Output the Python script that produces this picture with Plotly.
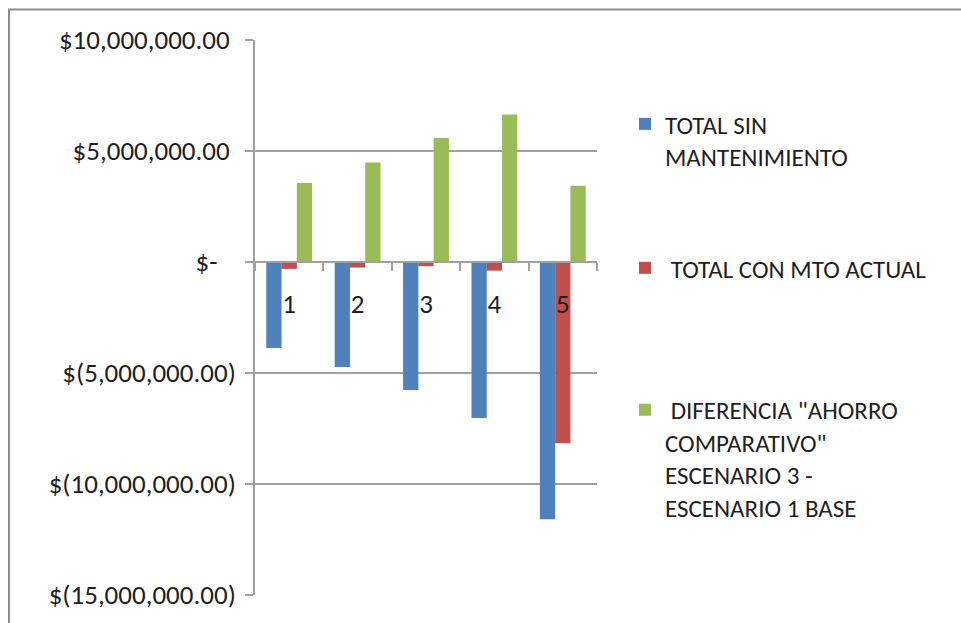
import plotly.graph_objects as go

# Scenario categories and series values (currency units)
categories = ["1", "2", "3", "4", "5"]
total_sin_mantenimiento = [-3870000, -4730000, -5770000, -7030000, -11590000]
total_con_mto_actual = [-310000, -250000, -190000, -390000, -8160000]
diferencia_ahorro = [3560000, 4480000, 5580000, 6640000, 3430000]

series_names = [
    "TOTAL SIN<br>MANTENIMIENTO",
    "\u00a0TOTAL CON MTO ACTUAL",
    "\u00a0DIFERENCIA \"AHORRO<br>COMPARATIVO\"<br>ESCENARIO 3 -<br>ESCENARIO 1 BASE",
]
series_colors = ["#4F81BD", "#C0504D", "#9BBB59"]

y_tick_values = [-15000000, -10000000, -5000000, 0, 5000000, 10000000]
y_tick_labels = [
    "$(15,000,000.00)",
    "$(10,000,000.00)",
    "$(5,000,000.00)",
    "$-\u00a0\u00a0\u00a0",
    "$5,000,000.00\u00a0",
    "$10,000,000.00\u00a0",
]
y_range = [-15000000, 10000000]

# Page geometry
W, H = 961, 623
PLOT_L, PLOT_R, PLOT_T, PLOT_B = 255, 597, 40, 603

def px_x(px):
    return (px - PLOT_L) / (PLOT_R - PLOT_L)

def px_y(py):
    return (PLOT_B - py) / (PLOT_B - PLOT_T)

FONT = "Calibri, Carlito, Lato, sans-serif"
TEXT_COLOR = "#1f1f1f"
GRID = "#a0a0a0"
TICK_SIZE = 27
LEGEND_SIZE = 25

fig = go.Figure()
all_values = [total_sin_mantenimiento, total_con_mto_actual, diferencia_ahorro]
legend_ids = ["legend", "legend2", "legend3"]
for name, vals, color, lg in zip(series_names, all_values, series_colors, legend_ids):
    fig.add_trace(go.Bar(
        x=categories, y=vals, name=name,
        marker=dict(color=color, line=dict(width=0)),
        legend=lg,
    ))

# Category axis sits on the zero line of the value axis
zero_pos = (0 - y_range[0]) / (y_range[1] - y_range[0])

legend_common = dict(
    font=dict(family=FONT, size=LEGEND_SIZE, color=TEXT_COLOR),
    bgcolor="rgba(0,0,0,0)",
    xanchor="left", yanchor="top",
    valign="top",
    itemclick=False, itemdoubleclick=False,
)

fig.update_layout(
    width=W, height=H,
    margin=dict(l=PLOT_L, r=W - PLOT_R, t=PLOT_T, b=H - PLOT_B),
    paper_bgcolor="white", plot_bgcolor="white",
    barmode="group", bargap=0.33, bargroupgap=0,
    font=dict(family=FONT, size=TICK_SIZE, color=TEXT_COLOR),
    xaxis=dict(
        type="category",
        anchor="free", position=zero_pos,
        showline=True, linecolor=GRID, linewidth=1.5,
        ticks="outside", tickson="boundaries", ticklen=8, tickcolor=GRID, tickwidth=1.5,
        ticklabelstandoff=18,
        showgrid=False, zeroline=False,
        tickfont=dict(family=FONT, size=TICK_SIZE, color=TEXT_COLOR),
    ),
    yaxis=dict(
        range=y_range,
        tickvals=y_tick_values, ticktext=y_tick_labels,
        showline=True, linecolor=GRID, linewidth=1.5,
        ticks="outside", ticklen=8, tickcolor=GRID, tickwidth=1.5,
        ticklabelstandoff=4,
        showgrid=True, gridcolor=GRID, gridwidth=1.5,
        zeroline=False,
        tickfont=dict(family=FONT, size=TICK_SIZE, color=TEXT_COLOR),
    ),
    legend=dict(x=px_x(625), y=px_y(102), **legend_common),
    legend2=dict(x=px_x(625), y=px_y(248), **legend_common),
    legend3=dict(x=px_x(625), y=px_y(392), **legend_common),
    showlegend=True,
    shapes=[dict(
        type="rect", xref="paper", yref="paper",
        x0=px_x(9), x1=px_x(975), y0=px_y(640), y1=px_y(9),
        line=dict(color="#8c8c8c", width=2), fillcolor="rgba(0,0,0,0)",
        layer="below",
    )],
)

fig.write_html("out.html")
